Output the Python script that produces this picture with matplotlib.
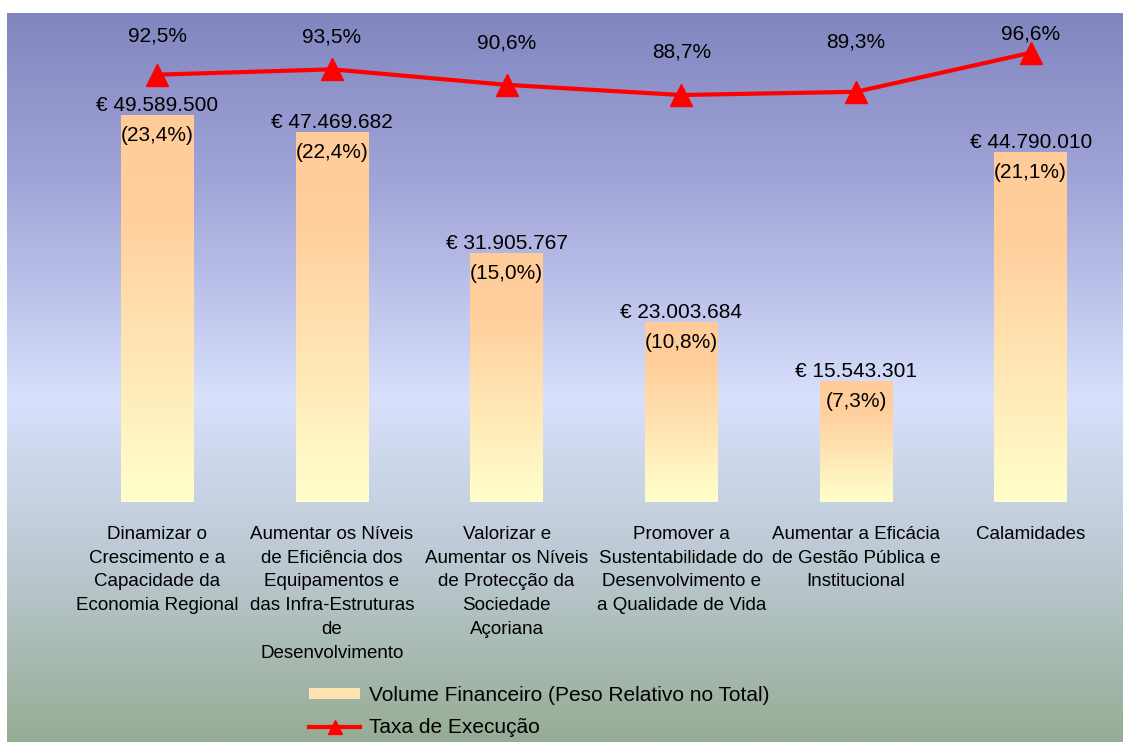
import numpy as np
import matplotlib.pyplot as plt
from matplotlib.colors import LinearSegmentedColormap
from matplotlib.patches import Patch
from matplotlib.lines import Line2D

# Dados
categorias = [
    "Dinamizar o\nCrescimento e a\nCapacidade da\nEconomia Regional",
    "Aumentar os Níveis\nde Eficiência dos\nEquipamentos e\ndas Infra-Estruturas\nde\nDesenvolvimento",
    "Valorizar e\nAumentar os Níveis\nde Protecção da\nSociedade\nAçoriana",
    "Promover a\nSustentabilidade do\nDesenvolvimento e\na Qualidade de Vida",
    "Aumentar a Eficácia\nde Gestão Pública e\nInstitucional",
    "Calamidades",
]
volume = [49589500, 47469682, 31905767, 23003684, 15543301, 44790010]
peso = [23.4, 22.4, 15.0, 10.8, 7.3, 21.1]
taxa = [92.5, 93.5, 90.6, 88.7, 89.3, 96.6]

# distancia (px) entre o ponto e o rótulo da taxa
dy_taxa = [33, 27, 36, 38, 44, 13]

plt.rcParams['font.family'] = ['Liberation Sans', 'DejaVu Sans']

W, H = 1126, 742
fig = plt.figure(figsize=(W / 100, H / 100), dpi=100)

# Fundo em gradiente
bg = fig.add_axes([7 / W, 0, (W - 10) / W, (H - 13) / H])
cmap_bg = LinearSegmentedColormap.from_list(
    "bg", [(0.0, "#8286c0"), (0.23, "#a0a4d7"), (0.53, "#d8e0fc"),
           (0.78, "#b8c6cc"), (1.0, "#97ac94")])
bg.imshow(np.linspace(0, 1, 256).reshape(-1, 1), aspect='auto', cmap=cmap_bg,
          extent=(0, 1, 1, 0))
bg.set_axis_off()

# Eixo principal
ax = fig.add_axes([70 / W, (H - 502) / H, 1048 / W, 489 / H])
ax.patch.set_alpha(0)
x = np.arange(len(volume))
barras = ax.bar(x, volume, width=0.417, color='none', edgecolor='none')
ax.set_xlim(-0.5, len(volume) - 0.5)
ax.set_ylim(0, 62.66e6)

cmap_bar = LinearSegmentedColormap.from_list(
    "bar", [(0.0, "#ffcc99"), (0.25, "#ffcf9d"), (1.0, "#ffffcc")])
grad = np.linspace(0, 1, 256).reshape(-1, 1)
for b, v, p in zip(barras, volume, peso):
    x0, w = b.get_x(), b.get_width()
    im = ax.imshow(grad, aspect='auto', cmap=cmap_bar,
                   extent=(x0, x0 + w, 0, v), origin='upper', zorder=2)
    im.set_clip_path(b)
    ax.annotate("€ " + f"{v:,}".replace(",", "."), (b.get_x() + w / 2, v),
                xytext=(0, 4), textcoords='offset pixels',
                ha='center', va='baseline', fontsize=15, zorder=5)
    ax.annotate("(" + f"{p:.1f}".replace(".", ",") + "%)", (b.get_x() + w / 2, v),
                xytext=(0, -26), textcoords='offset pixels',
                ha='center', va='baseline', fontsize=15, zorder=5)

ax.set_xticks(x)
ax.set_xticklabels(categorias, fontsize=13.5, linespacing=1.53)
for s in ax.spines.values():
    s.set_visible(False)
ax.set_autoscale_on(False)

# Eixo secundário - taxa de execução
ax2 = ax.twinx()
ax2.set_ylim(12.63, 104.03)
ax2.plot(x, taxa, color='#ff0000', lw=3, marker='^', markersize=16,
         zorder=6)
for xi, t, d in zip(x, taxa, dy_taxa):
    ax2.annotate(f"{t:.1f}".replace(".", ",") + "%", (xi, t),
                 xytext=(0, d), textcoords='offset pixels',
                 ha='center', va='baseline', fontsize=15)
ax2.set_yticks([])
for s in ax2.spines.values():
    s.set_visible(False)

ax.tick_params(axis='x', length=0, pad=17)
ax.tick_params(axis='y', left=False, right=False, labelleft=False)

# Legenda
handles = [
    Patch(facecolor='#ffe3b3', edgecolor='none'),
    Line2D([], [], color='#ff0000', lw=3, marker='^', markersize=10),
]
fig.legend(handles, ["Volume Financeiro (Peso Relativo no Total)", "Taxa de Execução"],
           loc='upper left', bbox_to_anchor=(309 / W, 1 - 686 / H),
           frameon=False, fontsize=15, borderpad=0, borderaxespad=0,
           handlelength=2.45, handleheight=0.45, handletextpad=0.45,
           labelspacing=0.64)

fig.savefig("out.png", dpi=100)
